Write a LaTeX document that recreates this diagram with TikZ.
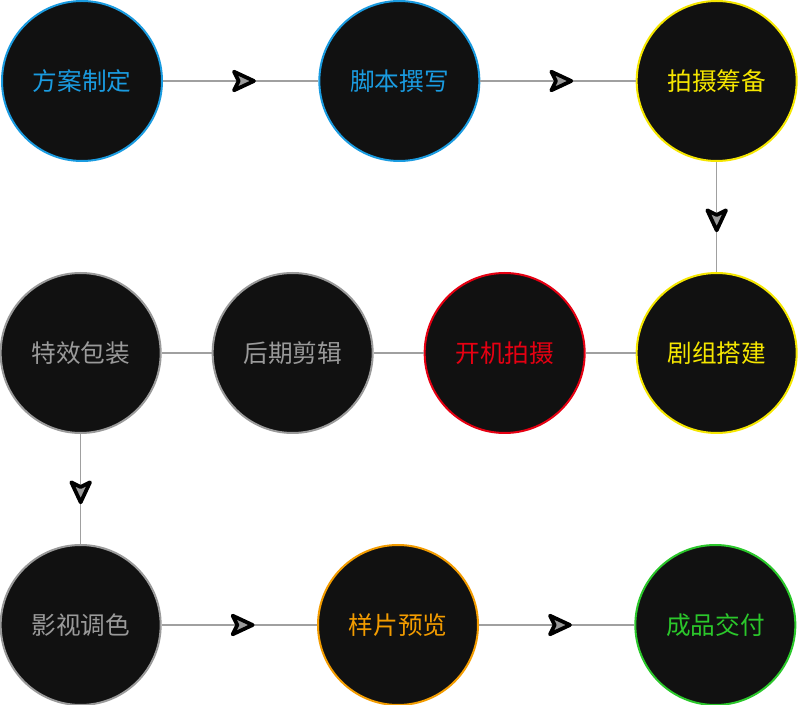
\documentclass[tikz,border=0pt]{standalone}
\usepackage{fontspec}
\newfontfamily\cjk{Noto Sans CJK SC}
\usepackage{tikz}
\usetikzlibrary{decorations.markings}

\definecolor{nodebg}{HTML}{111111}
\definecolor{linkgray}{HTML}{A0A0A0}
\definecolor{tipgray}{HTML}{9A9A9A}
\definecolor{planblue}{HTML}{1A9BE0}
\definecolor{prepyellow}{HTML}{F5E600}
\definecolor{shootred}{HTML}{E60012}
\definecolor{postgray}{HTML}{9A9A9A}
\definecolor{previeworange}{HTML}{F39C00}
\definecolor{donegreen}{HTML}{2BC72B}

\tikzset{
  stage/.style={circle, draw=#1, text=#1, fill=nodebg, line width=1.5pt,
    minimum size=120pt, inner sep=0pt, font=\cjk\fontsize{18.5}{21}\selectfont},
  link/.style={draw=linkgray, line width=0.8pt},
  flowlink/.style={link, postaction={decorate, decoration={markings,
    mark=at position 0.5 with {\draw[black, fill=tipgray, line width=2.8pt, line join=round]
      (10pt,0pt) -- (-5pt,7pt) -- (-1.5pt,0pt) -- (-5pt,-7pt) -- cycle;}}}}
}

\begin{document}
\begin{tikzpicture}[x=0.75pt,y=0.75pt,node distance=159pt]
	\useasboundingbox (0,0) rectangle (800,-705);

	\node[stage=planblue] 	(fangan) at (82,-81) {方案制定};
	\node[stage=planblue, right of=fangan, node distance=238pt] 	(jiaoben) {脚本撰写};
	\node[stage=prepyellow, right of=jiaoben, node distance=238pt] 	(choubei) {拍摄筹备};
	\node[stage=prepyellow, below of=choubei, node distance=204pt] 	(juzu) {剧组搭建};
	\node[stage=shootred, left of=juzu] 	(kaiji) {开机拍摄};
	\node[stage=postgray, left of=kaiji] 	(houqi) {后期剪辑};
	\node[stage=postgray, left of=houqi] 	(texiao) {特效包装};
	\node[stage=postgray, below of=texiao, node distance=204pt] 	(tiaose) {影视调色};
	\node[stage=previeworange, right of=tiaose, node distance=238pt] 	(yangpian) {样片预览};
	\node[stage=donegreen, right of=yangpian, node distance=238pt] 	(jiaofu) {成品交付};

	\path[flowlink]	(fangan) -- (jiaoben);
	\path[flowlink]	(jiaoben) -- (choubei);
	\path[flowlink]	(choubei) -- (juzu);
	\path[link]	(juzu) -- (kaiji);
	\path[link]	(kaiji) -- (houqi);
	\path[link]	(houqi) -- (texiao);
	\path[flowlink]	(texiao) -- (tiaose);
	\path[flowlink]	(tiaose) -- (yangpian);
	\path[flowlink]	(yangpian) -- (jiaofu);
\end{tikzpicture}
\end{document}
